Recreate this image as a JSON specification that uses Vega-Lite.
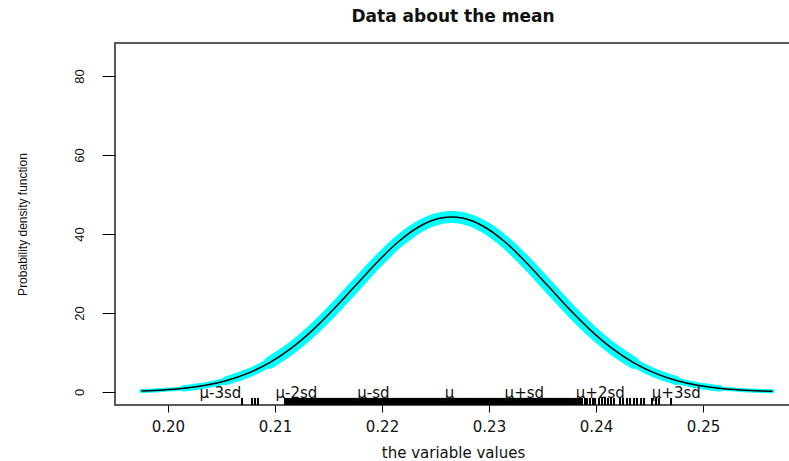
{
  "$schema": "https://vega.github.io/schema/vega-lite/v6.json",
  "autosize": "none",
  "width": 676,
  "height": 362,
  "padding": {"left": 115, "top": 43, "right": 0, "bottom": 56},
  "background": "white",
  "config": {
    "view": {"stroke": "#5a5a5a", "strokeWidth": 2},
    "font": "Liberation Sans"
  },
  "title": {
    "text": "Data about the mean",
    "font": "DejaVu Sans",
    "fontSize": 17,
    "fontWeight": "bold",
    "color": "#111111",
    "anchor": "middle",
    "frame": "group",
    "offset": 17
  },
  "datasets": {
    "curve": [
      {"x": 0.1975, "y": 0.25}, {"x": 0.1995, "y": 0.49}, {"x": 0.2015, "y": 0.94},
      {"x": 0.2035, "y": 1.69}, {"x": 0.2055, "y": 2.91}, {"x": 0.2075, "y": 4.77},
      {"x": 0.2095, "y": 7.44}, {"x": 0.2115, "y": 11.05}, {"x": 0.2135, "y": 15.61},
      {"x": 0.2155, "y": 20.99}, {"x": 0.2175, "y": 26.87}, {"x": 0.2195, "y": 32.74},
      {"x": 0.2215, "y": 37.97}, {"x": 0.2235, "y": 41.9}, {"x": 0.2255, "y": 44.03},
      {"x": 0.2265, "y": 44.3}, {"x": 0.2275, "y": 44.03}, {"x": 0.2295, "y": 41.9},
      {"x": 0.2315, "y": 37.97}, {"x": 0.2335, "y": 32.74}, {"x": 0.2355, "y": 26.87},
      {"x": 0.2375, "y": 20.99}, {"x": 0.2395, "y": 15.61}, {"x": 0.2415, "y": 11.05},
      {"x": 0.2435, "y": 7.44}, {"x": 0.2455, "y": 4.77}, {"x": 0.2475, "y": 2.91},
      {"x": 0.2495, "y": 1.69}, {"x": 0.2515, "y": 0.94}, {"x": 0.2535, "y": 0.49},
      {"x": 0.2555, "y": 0.25}, {"x": 0.2565, "y": 0.17}
    ],
    "labels": [
      {"x": 0.2049, "label": "μ-3sd"},
      {"x": 0.2120, "label": "μ-2sd"},
      {"x": 0.2192, "label": "μ-sd"},
      {"x": 0.2263, "label": "μ"},
      {"x": 0.2333, "label": "μ+sd"},
      {"x": 0.2404, "label": "μ+2sd"},
      {"x": 0.2475, "label": "μ+3sd"}
    ],
    "rug": [
      {"v": 0.20692}, {"v": 0.20785}, {"v": 0.20813}, {"v": 0.20841}, {"v": 0.21093}, {"v": 0.21112}, {"v": 0.21131},
      {"v": 0.2115}, {"v": 0.2116}, {"v": 0.2117}, {"v": 0.2118}, {"v": 0.2119}, {"v": 0.2120}, {"v": 0.2121}, {"v": 0.2122}, {"v": 0.2123}, {"v": 0.2124},
      {"v": 0.2125}, {"v": 0.2126}, {"v": 0.2127}, {"v": 0.2128}, {"v": 0.2129}, {"v": 0.2130}, {"v": 0.2131}, {"v": 0.2132}, {"v": 0.2133}, {"v": 0.2134},
      {"v": 0.2135}, {"v": 0.2136}, {"v": 0.2137}, {"v": 0.2138}, {"v": 0.2139}, {"v": 0.2140}, {"v": 0.2141}, {"v": 0.2142}, {"v": 0.2143}, {"v": 0.2144},
      {"v": 0.2145}, {"v": 0.2146}, {"v": 0.2147}, {"v": 0.2148}, {"v": 0.2149}, {"v": 0.2150}, {"v": 0.2151}, {"v": 0.2152}, {"v": 0.2153}, {"v": 0.2154},
      {"v": 0.2155}, {"v": 0.2156}, {"v": 0.2157}, {"v": 0.2158}, {"v": 0.2159}, {"v": 0.2160}, {"v": 0.2161}, {"v": 0.2162}, {"v": 0.2163}, {"v": 0.2164},
      {"v": 0.2165}, {"v": 0.2166}, {"v": 0.2167}, {"v": 0.2168}, {"v": 0.2169}, {"v": 0.2170}, {"v": 0.2171}, {"v": 0.2172}, {"v": 0.2173}, {"v": 0.2174},
      {"v": 0.2175}, {"v": 0.2176}, {"v": 0.2177}, {"v": 0.2178}, {"v": 0.2179}, {"v": 0.2180}, {"v": 0.2181}, {"v": 0.2182}, {"v": 0.2183}, {"v": 0.2184},
      {"v": 0.2185}, {"v": 0.2186}, {"v": 0.2187}, {"v": 0.2188}, {"v": 0.2189}, {"v": 0.2190}, {"v": 0.2191}, {"v": 0.2192}, {"v": 0.2193}, {"v": 0.2194},
      {"v": 0.2195}, {"v": 0.2196}, {"v": 0.2197}, {"v": 0.2198}, {"v": 0.2199}, {"v": 0.2200}, {"v": 0.2201}, {"v": 0.2202}, {"v": 0.2203}, {"v": 0.2204},
      {"v": 0.2205}, {"v": 0.2206}, {"v": 0.2207}, {"v": 0.2208}, {"v": 0.2209}, {"v": 0.2210}, {"v": 0.2211}, {"v": 0.2212}, {"v": 0.2213}, {"v": 0.2214},
      {"v": 0.2215}, {"v": 0.2216}, {"v": 0.2217}, {"v": 0.2218}, {"v": 0.2219}, {"v": 0.2220}, {"v": 0.2221}, {"v": 0.2222}, {"v": 0.2223}, {"v": 0.2224},
      {"v": 0.2225}, {"v": 0.2226}, {"v": 0.2227}, {"v": 0.2228}, {"v": 0.2229}, {"v": 0.2230}, {"v": 0.2231}, {"v": 0.2232}, {"v": 0.2233}, {"v": 0.2234},
      {"v": 0.2235}, {"v": 0.2236}, {"v": 0.2237}, {"v": 0.2238}, {"v": 0.2239}, {"v": 0.2240}, {"v": 0.2241}, {"v": 0.2242}, {"v": 0.2243}, {"v": 0.2244},
      {"v": 0.2245}, {"v": 0.2246}, {"v": 0.2247}, {"v": 0.2248}, {"v": 0.2249}, {"v": 0.2250}, {"v": 0.2251}, {"v": 0.2252}, {"v": 0.2253}, {"v": 0.2254},
      {"v": 0.2255}, {"v": 0.2256}, {"v": 0.2257}, {"v": 0.2258}, {"v": 0.2259}, {"v": 0.2260}, {"v": 0.2261}, {"v": 0.2262}, {"v": 0.2263}, {"v": 0.2264},
      {"v": 0.2265}, {"v": 0.2266}, {"v": 0.2267}, {"v": 0.2268}, {"v": 0.2269}, {"v": 0.2270}, {"v": 0.2271}, {"v": 0.2272}, {"v": 0.2273}, {"v": 0.2274},
      {"v": 0.2275}, {"v": 0.2276}, {"v": 0.2277}, {"v": 0.2278}, {"v": 0.2279}, {"v": 0.2280}, {"v": 0.2281}, {"v": 0.2282}, {"v": 0.2283}, {"v": 0.2284},
      {"v": 0.2285}, {"v": 0.2286}, {"v": 0.2287}, {"v": 0.2288}, {"v": 0.2289}, {"v": 0.2290}, {"v": 0.2291}, {"v": 0.2292}, {"v": 0.2293}, {"v": 0.2294},
      {"v": 0.2295}, {"v": 0.2296}, {"v": 0.2297}, {"v": 0.2298}, {"v": 0.2299}, {"v": 0.2300}, {"v": 0.2301}, {"v": 0.2302}, {"v": 0.2303}, {"v": 0.2304},
      {"v": 0.2305}, {"v": 0.2306}, {"v": 0.2307}, {"v": 0.2308}, {"v": 0.2309}, {"v": 0.2310}, {"v": 0.2311}, {"v": 0.2312}, {"v": 0.2313}, {"v": 0.2314},
      {"v": 0.2315}, {"v": 0.2316}, {"v": 0.2317}, {"v": 0.2318}, {"v": 0.2319}, {"v": 0.2320}, {"v": 0.2321}, {"v": 0.2322}, {"v": 0.2323}, {"v": 0.2324},
      {"v": 0.2325}, {"v": 0.2326}, {"v": 0.2327}, {"v": 0.2328}, {"v": 0.2329}, {"v": 0.2330}, {"v": 0.2331}, {"v": 0.2332}, {"v": 0.2333}, {"v": 0.2334},
      {"v": 0.2335}, {"v": 0.2336}, {"v": 0.2337}, {"v": 0.2338}, {"v": 0.2339}, {"v": 0.2340}, {"v": 0.2341}, {"v": 0.2342}, {"v": 0.2343}, {"v": 0.2344},
      {"v": 0.2345}, {"v": 0.2346}, {"v": 0.2347}, {"v": 0.2348}, {"v": 0.2349}, {"v": 0.2350}, {"v": 0.2351}, {"v": 0.2352}, {"v": 0.2353}, {"v": 0.2354},
      {"v": 0.2355}, {"v": 0.2356}, {"v": 0.2357}, {"v": 0.2358}, {"v": 0.2359}, {"v": 0.2360}, {"v": 0.2361}, {"v": 0.2362}, {"v": 0.2363}, {"v": 0.2364},
      {"v": 0.2365}, {"v": 0.2366}, {"v": 0.2367}, {"v": 0.2368}, {"v": 0.2369}, {"v": 0.2370}, {"v": 0.2371}, {"v": 0.2372}, {"v": 0.2373}, {"v": 0.2374},
      {"v": 0.2375}, {"v": 0.2376},
      {"v": 0.23776}, {"v": 0.23794}, {"v": 0.23813}, {"v": 0.23832}, {"v": 0.2385}, {"v": 0.23869}, {"v": 0.23897}, {"v": 0.23916},
      {"v": 0.23944}, {"v": 0.23972}, {"v": 0.23991}, {"v": 0.24028}, {"v": 0.24056}, {"v": 0.24084}, {"v": 0.24112}, {"v": 0.2414},
      {"v": 0.24168}, {"v": 0.24224}, {"v": 0.24252}, {"v": 0.2429}, {"v": 0.24318}, {"v": 0.24355}, {"v": 0.24383}, {"v": 0.24421},
      {"v": 0.24449}, {"v": 0.24523}, {"v": 0.24561}, {"v": 0.24589}, {"v": 0.24701}
    ]
  },
  "encoding": {
    "x": {
      "type": "quantitative",
      "scale": {"domain": [0.19505, 0.25822], "nice": false, "zero": false},
      "axis": {
        "title": "the variable values",
        "values": [0.2, 0.21, 0.22, 0.23, 0.24, 0.25],
        "format": ".2f",
        "grid": false,
        "domain": false,
        "tickSize": 7,
        "tickColor": "#000000",
        "labelFontSize": 15,
        "labelFont": "DejaVu Sans",
        "labelColor": "#111111",
        "labelPadding": 7,
        "titleFont": "DejaVu Sans",
        "titleFontSize": 15,
        "titleFontWeight": "normal",
        "titleColor": "#111111",
        "titleY": 47,
        "titleBaseline": "middle"
      }
    },
    "y": {
      "type": "quantitative",
      "scale": {"domain": [-3.29, 88.35], "nice": false, "zero": false},
      "axis": {
        "title": "Probability density function",
        "values": [0, 20, 40, 60, 80],
        "grid": false,
        "domain": false,
        "tickSize": 13,
        "tickColor": "#000000",
        "labelAngle": -90,
        "labelAlign": "center",
        "labelBaseline": "bottom",
        "labelPadding": 16,
        "labelFontSize": 13,
        "labelColor": "#111111",
        "titleFont": "Liberation Sans",
        "titleFontSize": 12,
        "titleFontWeight": "normal",
        "titleColor": "#111111",
        "titleX": -93,
        "titleY": 181,
        "titleAlign": "center",
        "titleBaseline": "middle"
      }
    }
  },
  "layer": [
    {
      "data": {"name": "curve"},
      "mark": {"type": "line", "color": "#00FFFF", "strokeWidth": 4, "strokeCap": "round", "interpolate": "monotone"},
      "encoding": {"x": {"field": "x"}, "y": {"field": "y"}}
    },
    {
      "data": {"name": "curve"},
      "transform": [{"filter": "datum.x >= 0.2015 && datum.x <= 0.2515"}],
      "mark": {"type": "line", "color": "#00FFFF", "strokeWidth": 6.5, "strokeCap": "round", "interpolate": "monotone"},
      "encoding": {"x": {"field": "x"}, "y": {"field": "y"}}
    },
    {
      "data": {"name": "curve"},
      "transform": [{"filter": "datum.x >= 0.2055 && datum.x <= 0.2475"}],
      "mark": {"type": "line", "color": "#00FFFF", "strokeWidth": 9, "strokeCap": "round", "interpolate": "monotone"},
      "encoding": {"x": {"field": "x"}, "y": {"field": "y"}}
    },
    {
      "data": {"name": "curve"},
      "transform": [{"filter": "datum.x >= 0.2095 && datum.x <= 0.2435"}],
      "mark": {"type": "line", "color": "#00FFFF", "strokeWidth": 12, "strokeCap": "round", "interpolate": "monotone"},
      "encoding": {"x": {"field": "x"}, "y": {"field": "y"}}
    },
    {
      "data": {"name": "curve"},
      "mark": {"type": "line", "color": "#000000", "strokeWidth": 1.5, "interpolate": "monotone"},
      "encoding": {"x": {"field": "x"}, "y": {"field": "y"}}
    },
    {
      "data": {"name": "rug"},
      "mark": {"type": "rule", "color": "#000000", "strokeWidth": 2},
      "encoding": {"x": {"field": "v"}, "y": {"datum": -3.29}, "y2": {"datum": -1.5}}
    },
    {
      "data": {"name": "labels"},
      "mark": {"type": "text", "font": "DejaVu Sans", "fontSize": 15, "color": "#111111", "baseline": "middle", "align": "center", "dy": 1},
      "encoding": {"x": {"field": "x"}, "y": {"datum": 0}, "text": {"field": "label"}}
    }
  ]
}
